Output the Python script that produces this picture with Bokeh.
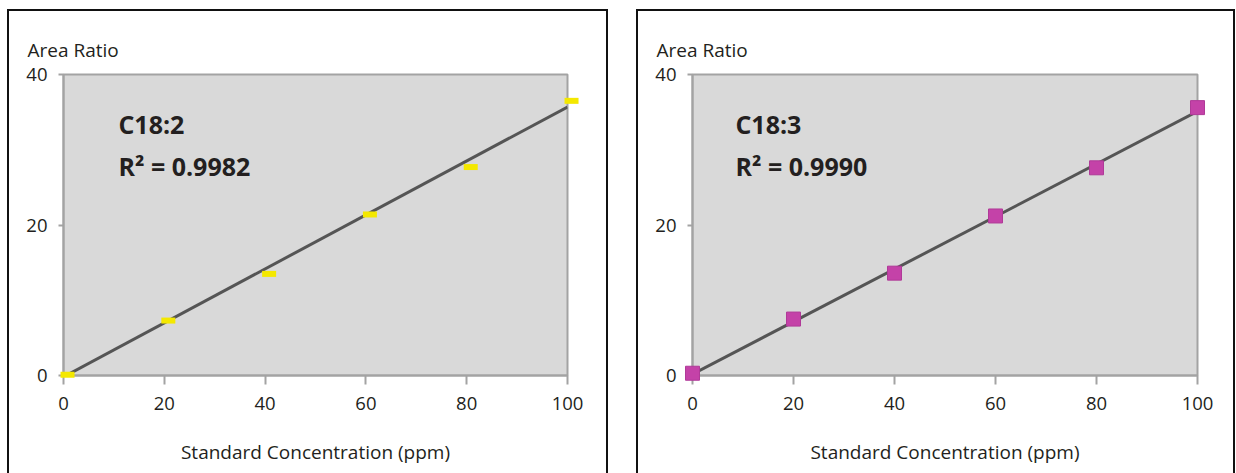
import numpy as np
from bokeh.plotting import figure
from bokeh.layouts import row
from bokeh.models import Label, FixedTicker, Range1d, ColumnDataSource, Title
from bokeh.transform import dodge
from bokeh.embed import file_html
from bokeh.resources import INLINE

# ---- data ----
concentration = [0, 20, 40, 60, 80, 100]
c182_ratio = [0.1, 7.3, 13.5, 21.4, 27.7, 36.5]
c183_ratio = [0.3, 7.5, 13.6, 21.2, 27.6, 35.6]
x_ticks = [0, 20, 40, 60, 80, 100]
y_ticks = [0, 20, 40]
names = ["C18:2", "C18:3"]
r2_texts = ["R\u00b2 = 0.9982", "R\u00b2 = 0.9990"]
x_title = "Standard Concentration (ppm)"
y_title = "Area Ratio"

FONT = "Open Sans"
TXT = "#231f20"
GREY = "#a3a3a3"


def make_panel(name, r2, ratio, kind, width, bl, br, text_x):
    p = figure(width=width, height=464, x_range=Range1d(0, 100), y_range=Range1d(0, 40),
               output_backend="svg", toolbar_location=None,
               min_border_left=bl, min_border_right=br, min_border_top=63, min_border_bottom=100)
    p.styles = {"border-top": "2px solid #111", "border-left": "2px solid #111",
                "border-right": "2px solid #111"}
    p.background_fill_color = "#d9d9d9"
    p.border_fill_color = "white"
    p.outline_line_color = GREY
    p.outline_line_width = 2
    p.xgrid.visible = False
    p.ygrid.visible = False

    for axs in (p.xaxis, p.yaxis):
        axs.axis_line_color = GREY
        axs.axis_line_width = 2
        axs.major_tick_line_color = GREY
        axs.major_tick_line_width = 2
        axs.minor_tick_line_color = None
        axs.major_tick_in = 0
        axs.major_label_text_font = FONT
        axs.major_label_text_font_size = "18.5px"
        axs.major_label_text_color = TXT
    p.xaxis.ticker = FixedTicker(ticks=x_ticks)
    p.yaxis.ticker = FixedTicker(ticks=y_ticks)
    p.xaxis.major_tick_out = 9
    p.yaxis.major_tick_out = 5
    p.xaxis.major_label_standoff = 12
    p.yaxis.major_label_standoff = 11
    p.xaxis.axis_label = x_title
    p.xaxis.axis_label_text_font = FONT
    p.xaxis.axis_label_text_font_size = "19px"
    p.xaxis.axis_label_text_font_style = "normal"
    p.xaxis.axis_label_text_color = TXT
    p.xaxis.axis_label_standoff = 26

    t = Title(text=y_title, align="left", offset=-36, standoff=24,
              text_font=FONT, text_font_size="19px", text_font_style="normal",
              text_color=TXT)
    p.add_layout(t, "above")

    src = ColumnDataSource(dict(x=concentration, y=ratio))
    slope, intercept = np.polyfit(concentration, ratio, 1)
    fit_x = [min(concentration), max(concentration)]
    fit_y = [intercept + slope * v for v in fit_x]
    p.line(fit_x, fit_y, line_color="#555555", line_width=3)

    if kind == "dash":
        p.rect(x=dodge("x", 0.8), y="y", width=14, height=6, width_units="screen",
               height_units="screen", fill_color="#f4e800", line_color=None,
               source=src, level="overlay")
    else:
        p.scatter(x="x", y="y", marker="square", size=14, fill_color="#c442a8",
                  line_color="#b03a98", line_width=1, source=src, level="overlay")

    p.add_layout(Label(x=text_x, y=33.4, text=name, text_font=FONT,
                       text_font_size="25px", text_font_style="bold", text_color=TXT,
                       text_baseline="middle"))
    p.add_layout(Label(x=text_x, y=27.8, text=r2, text_font=FONT,
                       text_font_size="25px", text_font_style="bold", text_color=TXT,
                       text_baseline="middle"))
    return p


p1 = make_panel(names[0], r2_texts[0], c182_ratio, "dash", 601, 54, 43, 10.9)
p2 = make_panel(names[1], r2_texts[1], c183_ratio, "square", 599, 54, 40, 8.5)

layout = row(p1, p2, spacing=28, margin=(9, 0, 0, 7))
open("out.html", "w").write(file_html(layout, INLINE))
